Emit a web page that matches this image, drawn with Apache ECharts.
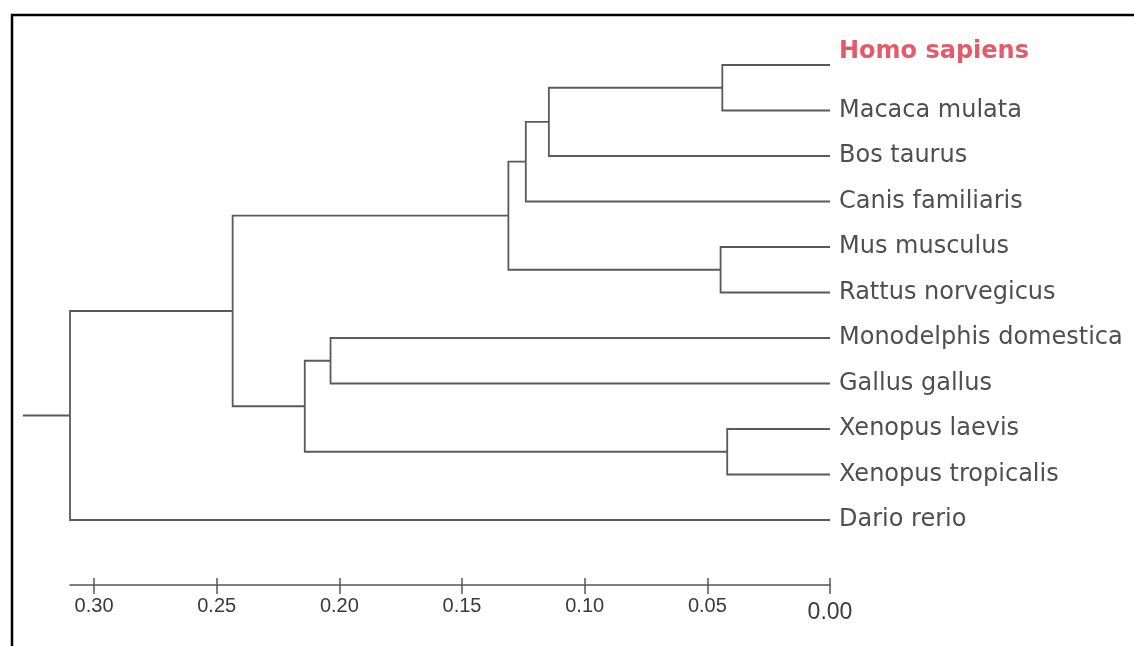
<!DOCTYPE html>
<html><head><meta charset="utf-8">
<script src="https://cdn.jsdelivr.net/npm/echarts@6/dist/echarts.min.js"></script>
<style>html,body{margin:0;padding:0;background:#fff;overflow:hidden}#c{width:1134px;height:646px}</style>
</head><body><div id="c"></div>
<script>
// Leaves, top to bottom
const leafNames = ['Homo sapiens', 'Macaca mulata', 'Bos taurus', 'Canis familiaris', 'Mus musculus',
  'Rattus norvegicus', 'Monodelphis domestica', 'Gallus gallus', 'Xenopus laevis', 'Xenopus tropicalis', 'Dario rerio'];
const highlightLeaf = 'Homo sapiens';
// Internal nodes: children (leaf index 0..10, internal node 11+k) and heights (distance)
const nodeChildren = [[0, 1], [11, 2], [12, 3], [4, 5], [13, 14], [6, 7], [8, 9], [16, 17], [15, 18], [19, 10]];
const nodeHeights = [0.0439, 0.1146, 0.1240, 0.0446, 0.1311, 0.2036, 0.0419, 0.2141, 0.2435, 0.3098];
const rootStubHeight = 0.329;
const tickValues = [0, 0.05, 0.10, 0.15, 0.20, 0.25, 0.30];

const nLeaf = leafNames.length;
const posX = leafNames.map(() => 0);
const posY = leafNames.map((_, i) => i);
nodeChildren.forEach((ch, k) => {
  posX.push(nodeHeights[k]);
  posY.push((posY[ch[0]] + posY[ch[1]]) / 2);
});
const rootId = posX.length - 1;
const axisMax = nodeHeights[nodeHeights.length - 1];

// Each branch as a polyline of [distance, leafPosition] points
const branchPaths = nodeChildren.map((ch, k) => {
  const id = nLeaf + k, a = ch[0], b = ch[1];
  return [[posX[a], posY[a]], [posX[id], posY[a]], [posX[id], posY[b]], [posX[b], posY[b]]];
});
branchPaths.push([[posX[rootId], posY[rootId]], [rootStubHeight, posY[rootId]]]);

const branchStyle = { stroke: '#5a5a5a', lineWidth: 1.8, fill: null };
const series = [{
  type: 'custom', xAxisIndex: 0, yAxisIndex: 0, silent: true, animation: false, clip: false,
  data: branchPaths.map((p, i) => [p[0][0], p[0][1], i]),
  encode: { x: 0, y: 1 },
  renderItem: (params, api) => {
    const path = branchPaths[api.value(2)];
    return { type: 'polyline', shape: { points: path.map(pt => api.coord(pt)) }, style: branchStyle };
  }
}, {
  type: 'scatter', xAxisIndex: 0, symbolSize: 0, silent: true, animation: false,
  itemStyle: { color: 'transparent' },
  label: { show: true, position: 'right', distance: 9, formatter: '{b}', color: '#222',
    fontFamily: 'DejaVu Sans', fontSize: 24 },
  data: leafNames.map((n, i) => {
    const d = { name: n, value: [0, i] };
    if (n === highlightLeaf) d.label = { color: '#dc3242', fontWeight: 'bold', offset: [0, -13] };
    return d;
  })
}];

const axisLineStyle = { color: '#555', width: 1.5 };
const tickFont = 'Liberation Sans, Arial, sans-serif';
const baseX = { type: 'value', min: 0, max: axisMax, inverse: true, splitLine: { show: false } };

const chart = echarts.init(document.getElementById('c'), null, { renderer: 'canvas' });
chart.setOption({
  animation: false,
  backgroundColor: '#fff',
  grid: { left: 70, right: 304, top: 65, bottom: 126 },
  xAxis: [
    Object.assign({}, baseX, {
      position: 'bottom', offset: 65,
      axisLine: { show: true, onZero: false, lineStyle: axisLineStyle },
      axisTick: { show: true, inside: false, length: 9, customValues: tickValues, lineStyle: axisLineStyle },
      axisLabel: {
        show: true, margin: 11, customValues: tickValues,
        formatter: v => v === 0 ? '{z|0.00}' : '{n|' + v.toFixed(2) + '}',
        rich: {
          n: { fontFamily: tickFont, fontSize: 20, color: '#3a3a3a' },
          z: { fontFamily: tickFont, fontSize: 23, color: '#3a3a3a', padding: [5, 0, 0, 0] }
        }
      }
    }),
    Object.assign({}, baseX, {
      position: 'top', offset: -520,
      axisLine: { show: false, onZero: false },
      axisTick: { show: true, inside: false, length: 7, customValues: tickValues, lineStyle: axisLineStyle },
      axisLabel: { show: false }
    })
  ],
  yAxis: { type: 'value', min: 0, max: 10, inverse: true, show: false },
  graphic: [{
    type: 'rect', silent: true, z: 100,
    shape: { x: 12, y: 15, width: 1400, height: 900 },
    style: { fill: null, stroke: '#000', lineWidth: 2.5 }
  }],
  series: series
});
</script></body></html>
